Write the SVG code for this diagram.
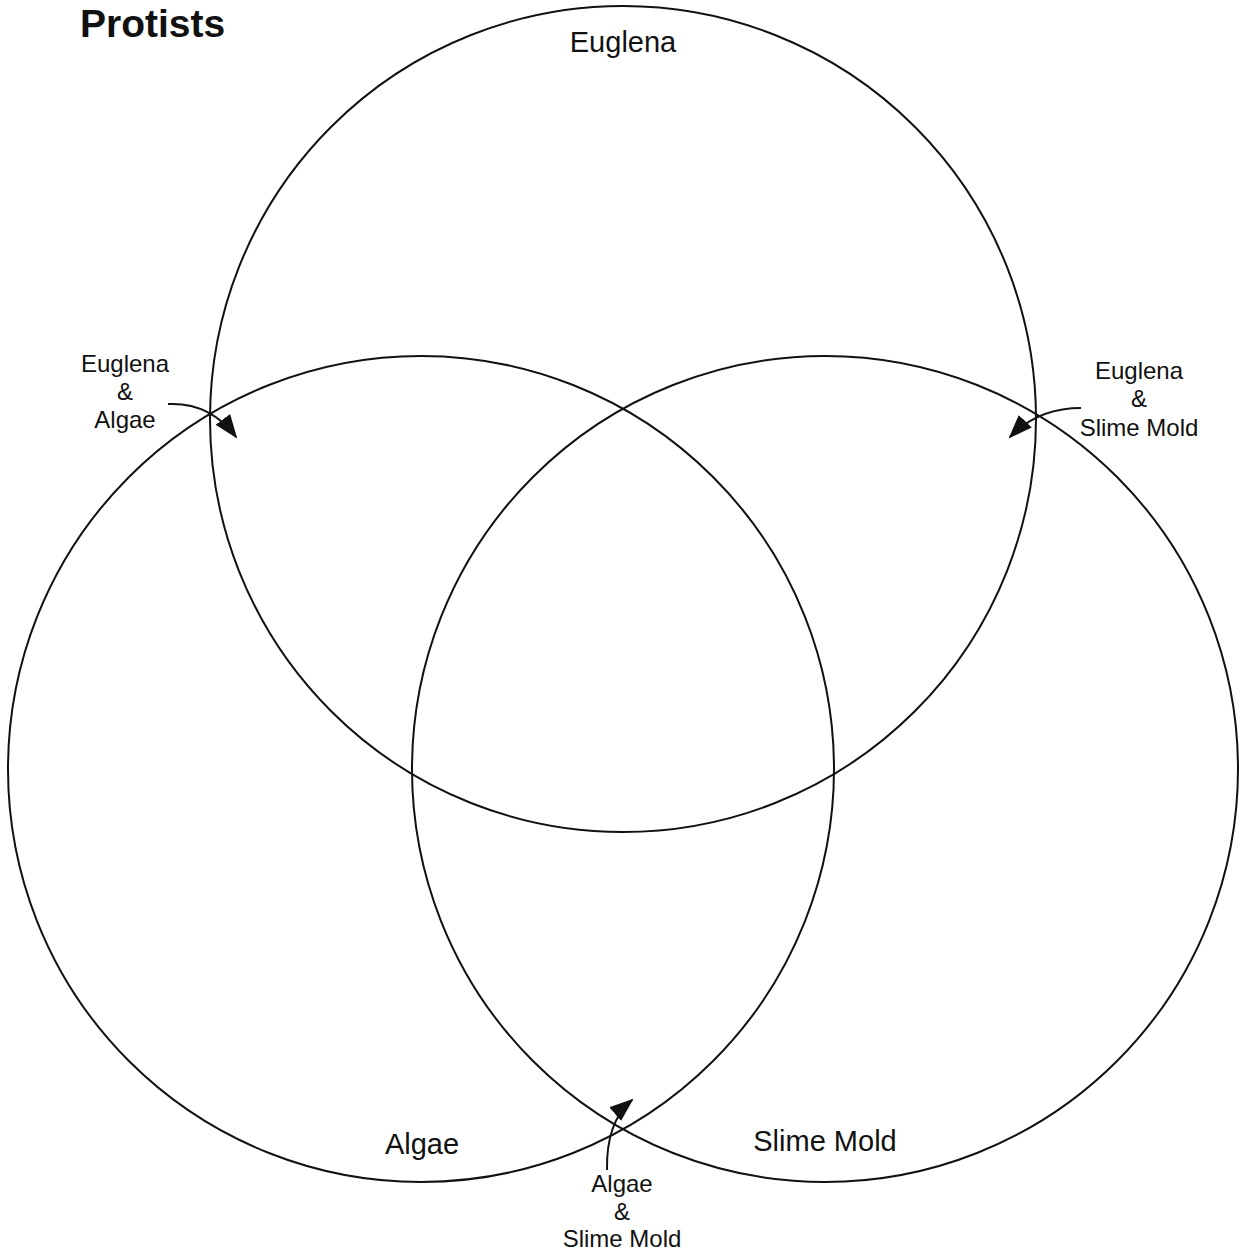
<svg xmlns="http://www.w3.org/2000/svg" width="1241" height="1257" viewBox="0 0 1241 1257">
  <style>
    .ring { fill: none; stroke: #111; stroke-width: 2; }
    .conn { fill: none; stroke: #111; stroke-width: 2; }
    .big { font-family: "Liberation Sans", Arial, sans-serif; font-size: 29px; fill: #111; text-anchor: middle; }
    .small { font-family: "Liberation Sans", Arial, sans-serif; font-size: 24px; fill: #111; text-anchor: middle; }
    .title { font-family: "Liberation Sans", Arial, sans-serif; font-size: 39px; font-weight: bold; fill: #111; }
  </style>
  <defs>
    <marker id="head" markerUnits="userSpaceOnUse" markerWidth="26" markerHeight="20" refX="22" refY="9" orient="auto">
      <path d="M0,0 L24,9 L0,18 z" fill="#111"/>
    </marker>
  </defs>
  <rect width="1241" height="1257" fill="#fff"/>

  <text class="title" x="80" y="37">Protists</text>

  <g id="euglena">
    <circle class="ring" cx="623" cy="419" r="413"/>
    <text class="big" x="623" y="52">Euglena</text>
  </g>
  <g id="algae">
    <circle class="ring" cx="421" cy="769" r="413"/>
    <text class="big" x="422" y="1154">Algae</text>
  </g>
  <g id="slime-mold">
    <circle class="ring" cx="825" cy="769" r="413"/>
    <text class="big" x="825" y="1151">Slime Mold</text>
  </g>

  <g id="label-euglena-algae">
    <text class="small" x="125" y="372">Euglena</text>
    <text class="small" x="125" y="400">&amp;</text>
    <text class="small" x="125" y="428">Algae</text>
  </g>
  <g id="label-euglena-slime">
    <text class="small" x="1139" y="379">Euglena</text>
    <text class="small" x="1139" y="407">&amp;</text>
    <text class="small" x="1139" y="436">Slime Mold</text>
  </g>
  <g id="label-algae-slime">
    <text class="small" x="622" y="1192">Algae</text>
    <text class="small" x="622" y="1220">&amp;</text>
    <text class="small" x="622" y="1247">Slime Mold</text>
  </g>

  <g id="connectors">
    <path class="conn" d="M168,404 Q210,402 236,437" marker-end="url(#head)"/>
    <path class="conn" d="M1081,408 Q1038,408 1010,437" marker-end="url(#head)"/>
    <path class="conn" d="M607,1170 Q606,1122 632,1100" marker-end="url(#head)"/>
  </g>
</svg>
